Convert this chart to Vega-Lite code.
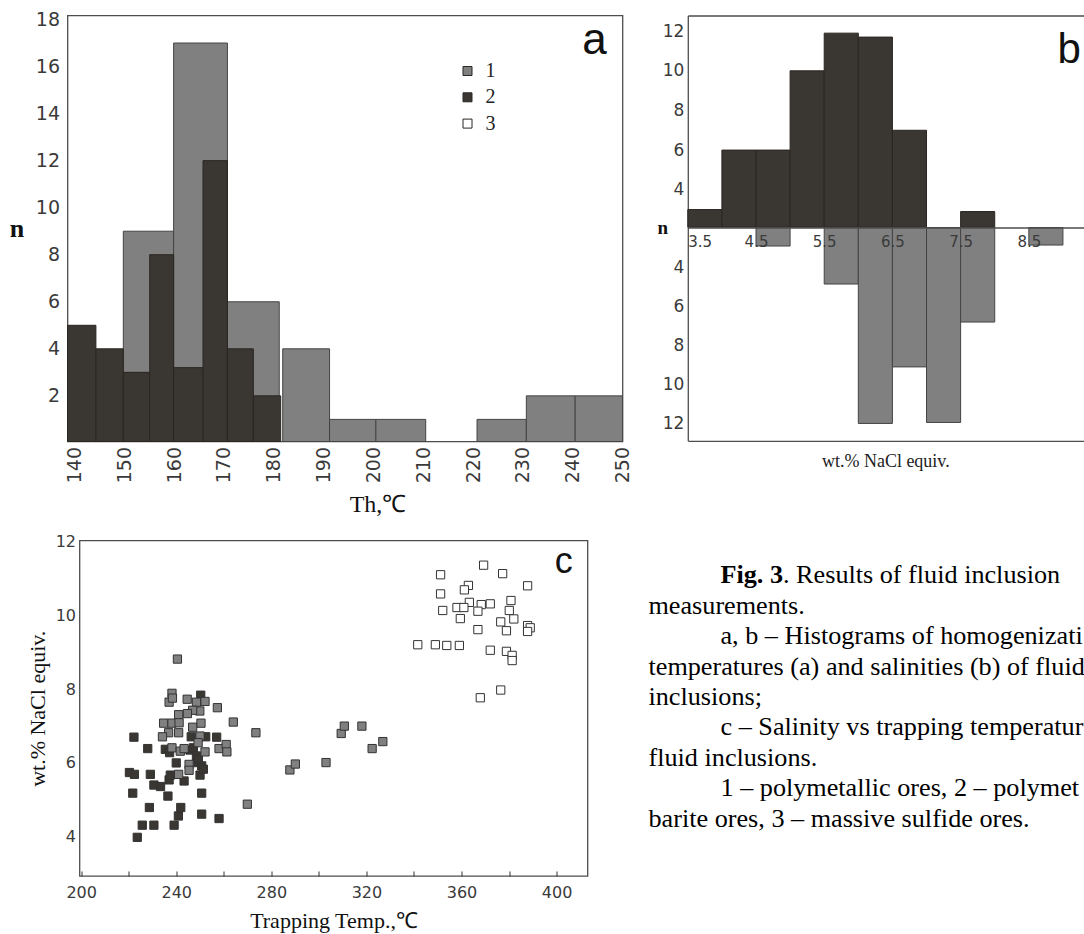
{
  "$schema": "https://vega.github.io/schema/vega-lite/v6.json",
  "background": "white",
  "padding": {"left": 8.5, "top": 9.5, "right": 0, "bottom": 0},
  "spacing": 15,
  "datasets": {
    "hist_th": [
      {"series": "1", "start": 149.8, "end": 159.9, "n": 9},
      {"series": "1", "start": 159.9, "end": 170.7, "n": 17},
      {"series": "1", "start": 170.7, "end": 181.1, "n": 6},
      {"series": "1", "start": 181.8, "end": 191.2, "n": 4},
      {"series": "1", "start": 191.2, "end": 200.5, "n": 1},
      {"series": "1", "start": 200.5, "end": 210.5, "n": 1},
      {"series": "1", "start": 220.8, "end": 230.7, "n": 1},
      {"series": "1", "start": 230.7, "end": 240.5, "n": 2},
      {"series": "1", "start": 240.5, "end": 250, "n": 2},
      {"series": "2", "start": 138.6, "end": 144.3, "n": 5},
      {"series": "2", "start": 144.3, "end": 149.8, "n": 4},
      {"series": "2", "start": 149.8, "end": 155.1, "n": 3},
      {"series": "2", "start": 155.1, "end": 159.9, "n": 8},
      {"series": "2", "start": 159.9, "end": 165.8, "n": 3.2},
      {"series": "2", "start": 165.8, "end": 170.7, "n": 12},
      {"series": "2", "start": 170.7, "end": 175.9, "n": 4},
      {"series": "2", "start": 175.9, "end": 181.4, "n": 2}
    ],
    "hist_sal": [
      {"series": "2", "start": 3.5, "end": 4.0, "n": 3},
      {"series": "2", "start": 4.0, "end": 4.5, "n": 6},
      {"series": "2", "start": 4.5, "end": 5.0, "n": 6},
      {"series": "2", "start": 5.0, "end": 5.5, "n": 10},
      {"series": "2", "start": 5.5, "end": 6.0, "n": 11.9},
      {"series": "2", "start": 6.0, "end": 6.5, "n": 11.7},
      {"series": "2", "start": 6.5, "end": 7.0, "n": 7},
      {"series": "2", "start": 7.5, "end": 8.0, "n": 2.9},
      {"series": "1", "start": 4.5, "end": 5.0, "n": 2.9},
      {"series": "1", "start": 5.5, "end": 6.0, "n": 4.85},
      {"series": "1", "start": 6.0, "end": 6.5, "n": 12},
      {"series": "1", "start": 6.5, "end": 7.0, "n": 9.1},
      {"series": "1", "start": 7.0, "end": 7.5, "n": 11.95},
      {"series": "1", "start": 7.5, "end": 8.0, "n": 6.8},
      {"series": "1", "start": 8.5, "end": 9.0, "n": 2.85}
    ],
    "scatter": [
      {"series": "2", "T": 222.2, "W": 6.70}, {"series": "2", "T": 228.0, "W": 6.39},
      {"series": "2", "T": 220.3, "W": 5.74}, {"series": "2", "T": 222.4, "W": 5.69},
      {"series": "2", "T": 229.1, "W": 5.69}, {"series": "2", "T": 221.7, "W": 5.18},
      {"series": "2", "T": 230.6, "W": 5.40}, {"series": "2", "T": 233.4, "W": 5.36},
      {"series": "2", "T": 228.7, "W": 4.79}, {"series": "2", "T": 236.5, "W": 5.10},
      {"series": "2", "T": 225.7, "W": 4.31}, {"series": "2", "T": 230.6, "W": 4.31},
      {"series": "2", "T": 223.6, "W": 3.98}, {"series": "2", "T": 239.1, "W": 4.31},
      {"series": "2", "T": 240.9, "W": 4.56}, {"series": "2", "T": 241.9, "W": 4.79},
      {"series": "2", "T": 243.3, "W": 5.51}, {"series": "2", "T": 237.0, "W": 5.54},
      {"series": "2", "T": 237.5, "W": 5.67}, {"series": "2", "T": 240.0, "W": 6.00},
      {"series": "2", "T": 235.4, "W": 6.37}, {"series": "2", "T": 237.2, "W": 6.28},
      {"series": "2", "T": 245.8, "W": 6.35}, {"series": "2", "T": 247.2, "W": 6.41},
      {"series": "2", "T": 248.5, "W": 6.19}, {"series": "2", "T": 249.1, "W": 6.01},
      {"series": "2", "T": 250.7, "W": 5.92}, {"series": "2", "T": 250.0, "W": 5.67},
      {"series": "2", "T": 251.4, "W": 5.83}, {"series": "2", "T": 250.7, "W": 5.18},
      {"series": "2", "T": 250.7, "W": 4.61}, {"series": "2", "T": 258.0, "W": 4.49},
      {"series": "2", "T": 257.0, "W": 6.70}, {"series": "2", "T": 252.4, "W": 6.71},
      {"series": "2", "T": 246.3, "W": 6.71}, {"series": "2", "T": 250.3, "W": 7.84},
      {"series": "2", "T": 249.3, "W": 6.10},
      {"series": "1", "T": 240.5, "W": 8.82}, {"series": "1", "T": 238.2, "W": 7.89},
      {"series": "1", "T": 237.0, "W": 7.65}, {"series": "1", "T": 238.4, "W": 7.76},
      {"series": "1", "T": 244.6, "W": 7.73}, {"series": "1", "T": 248.5, "W": 7.65},
      {"series": "1", "T": 252.1, "W": 7.67}, {"series": "1", "T": 249.9, "W": 7.41},
      {"series": "1", "T": 246.9, "W": 7.43}, {"series": "1", "T": 244.7, "W": 7.34},
      {"series": "1", "T": 241.0, "W": 7.31}, {"series": "1", "T": 257.3, "W": 7.50},
      {"series": "1", "T": 264.0, "W": 7.11}, {"series": "1", "T": 234.7, "W": 7.08},
      {"series": "1", "T": 238.2, "W": 7.08}, {"series": "1", "T": 241.2, "W": 7.09},
      {"series": "1", "T": 250.4, "W": 7.08}, {"series": "1", "T": 246.9, "W": 6.97},
      {"series": "1", "T": 273.5, "W": 6.82}, {"series": "1", "T": 236.8, "W": 6.82},
      {"series": "1", "T": 234.2, "W": 6.71}, {"series": "1", "T": 241.0, "W": 6.82},
      {"series": "1", "T": 250.0, "W": 6.73}, {"series": "1", "T": 238.2, "W": 6.41},
      {"series": "1", "T": 241.7, "W": 6.32}, {"series": "1", "T": 243.3, "W": 6.39},
      {"series": "1", "T": 249.2, "W": 6.55}, {"series": "1", "T": 252.1, "W": 6.30},
      {"series": "1", "T": 258.0, "W": 6.39}, {"series": "1", "T": 261.0, "W": 6.50},
      {"series": "1", "T": 261.3, "W": 6.30}, {"series": "1", "T": 245.4, "W": 5.96},
      {"series": "1", "T": 245.4, "W": 5.80}, {"series": "1", "T": 241.0, "W": 5.69},
      {"series": "1", "T": 269.9, "W": 4.88}, {"series": "1", "T": 287.8, "W": 5.81},
      {"series": "1", "T": 290.1, "W": 5.97}, {"series": "1", "T": 303.0, "W": 6.01},
      {"series": "1", "T": 309.4, "W": 6.80}, {"series": "1", "T": 310.7, "W": 7.00},
      {"series": "1", "T": 318.1, "W": 7.00}, {"series": "1", "T": 322.4, "W": 6.39},
      {"series": "1", "T": 326.9, "W": 6.58},
      {"series": "3", "T": 369.3, "W": 11.37}, {"series": "3", "T": 377.3, "W": 11.14},
      {"series": "3", "T": 351.2, "W": 11.11}, {"series": "3", "T": 387.8, "W": 10.81},
      {"series": "3", "T": 362.9, "W": 10.82}, {"series": "3", "T": 361.2, "W": 10.70},
      {"series": "3", "T": 351.2, "W": 10.59}, {"series": "3", "T": 380.8, "W": 10.41},
      {"series": "3", "T": 363.3, "W": 10.36}, {"series": "3", "T": 358.1, "W": 10.22},
      {"series": "3", "T": 361.0, "W": 10.22}, {"series": "3", "T": 368.3, "W": 10.30},
      {"series": "3", "T": 372.1, "W": 10.32}, {"series": "3", "T": 366.9, "W": 10.12},
      {"series": "3", "T": 352.1, "W": 10.14}, {"series": "3", "T": 380.1, "W": 10.14},
      {"series": "3", "T": 359.5, "W": 9.92}, {"series": "3", "T": 382.0, "W": 9.91},
      {"series": "3", "T": 376.5, "W": 9.83}, {"series": "3", "T": 378.9, "W": 9.59},
      {"series": "3", "T": 366.9, "W": 9.62}, {"series": "3", "T": 387.8, "W": 9.73},
      {"series": "3", "T": 388.9, "W": 9.67}, {"series": "3", "T": 387.8, "W": 9.57},
      {"series": "3", "T": 341.6, "W": 9.21}, {"series": "3", "T": 349.0, "W": 9.21},
      {"series": "3", "T": 353.8, "W": 9.19}, {"series": "3", "T": 359.1, "W": 9.19},
      {"series": "3", "T": 372.1, "W": 9.06}, {"series": "3", "T": 378.9, "W": 9.03},
      {"series": "3", "T": 381.3, "W": 8.92}, {"series": "3", "T": 381.3, "W": 8.78},
      {"series": "3", "T": 376.5, "W": 7.98}, {"series": "3", "T": 367.9, "W": 7.77}
    ],
    "caption": [
      {"line": 1, "indent": "yes", "style": "bold", "text": "Fig. 3"},
      {"line": 1, "indent": "yes", "style": "after", "text": ". Results of fluid inclusion"},
      {"line": 2, "indent": "no", "style": "plain", "text": "measurements."},
      {"line": 3, "indent": "yes", "style": "plain", "text": "a, b – Histograms of homogenization"},
      {"line": 4, "indent": "no", "style": "plain", "text": "temperatures (a) and salinities (b) of fluid"},
      {"line": 5, "indent": "no", "style": "plain", "text": "inclusions;"},
      {"line": 6, "indent": "yes", "style": "plain", "text": "c – Salinity vs trapping temperature of"},
      {"line": 7, "indent": "no", "style": "plain", "text": "fluid inclusions."},
      {"line": 8, "indent": "yes", "style": "plain", "text": "1 – polymetallic ores, 2 – polymetallic-"},
      {"line": 9, "indent": "no", "style": "plain", "text": "barite ores, 3 – massive sulfide ores."}
    ]
  },
  "vconcat": [
    {
      "hconcat": [
        {
          "width": 555,
          "height": 426,
          "data": {"name": "hist_th"},
          "layer": [
            {
              "transform": [{"filter": "datum.series == '1'"}],
              "mark": {"type": "bar", "stroke": "#444444", "strokeWidth": 1},
              "encoding": {
                "x": {"field": "start", "type": "quantitative",
                  "scale": {"domain": [138.6, 250], "nice": false, "zero": false},
                  "axis": {"values": [140, 150, 160, 170, 180, 190, 200, 210, 220, 230, 240, 250],
                    "labelAngle": -90, "labelFontSize": 19, "labelPadding": 5, "labelFlush": false,
                    "title": "Th,℃", "titleFontSize": 24, "titlePadding": 10, "titleX": 310, "titleAlign": "center"}},
                "x2": {"field": "end"},
                "y": {"field": "n", "type": "quantitative",
                  "scale": {"domain": [0.06, 18.17], "nice": false, "zero": false},
                  "axis": {"values": [2, 4, 6, 8, 10, 12, 14, 16, 18], "labelFontSize": 19, "labelPadding": 8,
                    "title": "n", "titleAngle": 0, "titleFontSize": 26, "titleFontWeight": "bold",
                    "titleX": -51, "titleY": 213, "titleAlign": "center", "titleBaseline": "middle"}},
                "y2": {"datum": 0.06},
                "color": {"field": "series", "type": "nominal",
                  "scale": {"domain": ["1", "2", "3"], "range": ["#808080", "#3a3632", "#ffffff"]},
                  "legend": {"orient": "none", "legendX": 390, "legendY": 45.5, "title": null, "padding": 0,
                    "symbolType": "square", "symbolSize": 81, "symbolStrokeColor": "#333333", "symbolStrokeWidth": 1,
                    "labelFont": "Liberation Serif", "labelFontSize": 20, "labelColor": "#222222",
                    "rowPadding": 6.3, "labelOffset": 8}}
              }
            },
            {
              "transform": [{"filter": "datum.series == '2'"}],
              "mark": {"type": "bar", "stroke": "#2a2622", "strokeWidth": 1},
              "encoding": {
                "x": {"field": "start", "type": "quantitative"},
                "x2": {"field": "end"},
                "y": {"field": "n", "type": "quantitative"},
                "y2": {"datum": 0.06},
                "color": {"field": "series", "type": "nominal"}
              }
            },
            {
              "data": {"values": [{}]},
              "mark": {"type": "text", "text": "a", "font": "Liberation Sans", "fontSize": 44, "align": "center", "baseline": "alphabetic", "color": "#111111"},
              "encoding": {"x": {"datum": 244.4}, "y": {"datum": 16.55}}
            }
          ]
        },
        {
          "vconcat": [
            {
              "width": 396,
              "height": 211.7,
              "view": {"stroke": null},
              "layer": [
                {
                  "data": {"name": "hist_sal"},
                  "transform": [{"filter": "datum.series == '2'"}],
                  "mark": {"type": "bar", "fill": "#3a3632", "stroke": "#2a2622", "strokeWidth": 1},
                  "encoding": {
                    "x": {"field": "start", "type": "quantitative",
                      "scale": {"domain": [3.5, 9.306], "nice": false, "zero": false},
                      "axis": {"orient": "top", "labels": false, "ticks": false, "domain": true, "domainColor": "#4d4d4d", "domainWidth": 1.3, "title": null}},
                    "x2": {"field": "end"},
                    "y": {"field": "n", "type": "quantitative",
                      "scale": {"domain": [2.11, 12.79], "nice": false, "zero": false},
                      "axis": {"values": [4, 6, 8, 10, 12], "labelFontSize": 17, "labelPadding": 4,
                        "domain": true, "domainColor": "#4d4d4d", "domainWidth": 1.3,
                        "title": "n", "titleAngle": 0, "titleFontSize": 19, "titleFontWeight": "bold",
                        "titleX": -25.5, "titleY": 211.7, "titleAlign": "center", "titleBaseline": "middle"}},
                    "y2": {"datum": 2.11}
                  }
                },
                {
                  "data": {"values": [{}]},
                  "mark": {"type": "text", "text": "b", "font": "Liberation Sans", "fontSize": 42, "align": "center", "baseline": "alphabetic", "color": "#111111"},
                  "encoding": {"x": {"datum": 9.09}, "y": {"datum": 10.39}}
                }
              ]
            },
            {
              "width": 396,
              "height": 213.3,
              "view": {"stroke": null},
              "title": {"text": "wt.% NaCl equiv.", "orient": "bottom", "font": "Liberation Serif", "fontSize": 18, "fontWeight": "normal", "color": "#222222", "offset": 12},
              "data": {"name": "hist_sal"},
              "transform": [{"filter": "datum.series == '1'"}],
              "layer": [
                {
                  "mark": {"type": "bar", "fill": "#808080", "stroke": "#444444", "strokeWidth": 1},
                  "encoding": {
                    "x": {"field": "start", "type": "quantitative",
                      "scale": {"domain": [3.5, 9.306], "nice": false, "zero": false},
                      "axis": {"orient": "top", "values": [3.5, 4.5, 5.5, 6.5, 7.5, 8.5], "format": ".1f",
                        "labelFontSize": 15, "labelPadding": -7, "labelBaseline": "top", "labelFlush": true,
                        "domain": true, "domainColor": "#4d4d4d", "domainWidth": 1.3, "zindex": 1, "title": null}},
                    "x2": {"field": "end"},
                    "y": {"field": "n", "type": "quantitative",
                      "scale": {"domain": [1.95, 12.89], "nice": false, "zero": false, "reverse": true},
                      "axis": {"values": [4, 6, 8, 10, 12], "labelFontSize": 17, "labelPadding": 4,
                        "domain": true, "domainColor": "#4d4d4d", "domainWidth": 1.3, "title": null}},
                    "y2": {"datum": 1.95}
                  }
                },
                {
                  "mark": {"type": "bar", "opacity": 0},
                  "encoding": {
                    "x": {"field": "start", "type": "quantitative",
                      "scale": {"domain": [3.5, 9.306], "nice": false, "zero": false},
                      "axis": {"orient": "bottom", "labels": false, "ticks": false, "domain": true, "domainColor": "#4d4d4d", "domainWidth": 1.3, "title": null}},
                    "x2": {"field": "end"},
                    "y": {"field": "n", "type": "quantitative"},
                    "y2": {"datum": 1.95}
                  }
                }
              ],
              "resolve": {"axis": {"x": "independent"}}
            }
          ],
          "spacing": 0,
          "bounds": "flush"
        }
      ],
      "spacing": 65.3,
      "bounds": "flush"
    },
    {
      "hconcat": [
        {
          "width": 0.3,
          "height": 1,
          "view": {"stroke": null},
          "data": {"values": []},
          "mark": {"type": "text"},
          "encoding": {}
        },
        {
          "width": 508,
          "height": 335.5,
          "layer": [
            {
              "data": {"name": "scatter"},
              "mark": {"type": "square", "size": 68, "stroke": "#333333", "strokeWidth": 1, "opacity": 1},
              "encoding": {
                "x": {"field": "T", "type": "quantitative",
                  "scale": {"domain": [199.3, 413], "nice": false, "zero": false},
                  "axis": {"values": [200, 220, 240, 260, 280, 300, 320, 340, 360, 380, 400],
                    "labelExpr": "datum.value % 40 == 0 ? datum.label : ''",
                    "ticks": true, "tickSize": -5, "tickColor": "#333333",
                    "labelFontSize": 16, "labelPadding": 13, "labelFlush": false,
                    "title": "Trapping Temp.,℃", "titleFontSize": 22, "titlePadding": 10}},
                "y": {"field": "W", "type": "quantitative",
                  "scale": {"domain": [2.93, 12.04], "nice": false, "zero": false},
                  "axis": {"values": [4, 6, 8, 10, 12], "labelFontSize": 16, "labelPadding": 4,
                    "title": "wt.% NaCl equiv.", "titleFontSize": 22, "titlePadding": 6}},
                "color": {"field": "series", "type": "nominal"}
              }
            },
            {
              "data": {"values": [{}]},
              "mark": {"type": "text", "text": "c", "font": "Liberation Sans", "fontSize": 36, "align": "center", "baseline": "alphabetic", "color": "#111111"},
              "encoding": {"x": {"datum": 403}, "y": {"datum": 11.17}}
            }
          ]
        },
        {
          "width": 39,
          "height": 1,
          "view": {"stroke": null},
          "data": {"values": []},
          "mark": {"type": "text"},
          "encoding": {}
        },
        {
          "width": 437,
          "height": 278,
          "view": {"stroke": null},
          "data": {"name": "caption"},
          "encoding": {
            "x": {"field": "indent", "type": "nominal",
              "scale": {"type": "point", "domain": ["no", "yes"], "range": [0, 72], "padding": 0}, "axis": null},
            "y": {"field": "line", "type": "quantitative",
              "scale": {"domain": [-0.15, 9], "nice": false, "zero": false, "reverse": true}, "axis": null},
            "text": {"field": "text"}
          },
          "layer": [
            {
              "transform": [{"filter": "datum.style == 'plain' && datum.indent == 'no'"}],
              "mark": {"type": "text", "align": "left", "baseline": "middle", "font": "Liberation Serif", "fontSize": 26.2, "color": "#000000", "limit": 437, "ellipsis": "\u200b"}
            },
            {
              "transform": [{"filter": "datum.style == 'plain' && datum.indent == 'yes'"}],
              "mark": {"type": "text", "align": "left", "baseline": "middle", "font": "Liberation Serif", "fontSize": 26.2, "color": "#000000", "limit": 365, "ellipsis": "\u200b"}
            },
            {
              "transform": [{"filter": "datum.style == 'bold'"}],
              "mark": {"type": "text", "align": "left", "baseline": "middle", "font": "Liberation Serif", "fontSize": 26.2, "fontWeight": "bold", "color": "#000000"}
            },
            {
              "transform": [{"filter": "datum.style == 'after'"}],
              "mark": {"type": "text", "align": "left", "baseline": "middle", "font": "Liberation Serif", "fontSize": 26.2, "color": "#000000", "dx": 62.5, "limit": 300, "ellipsis": "\u200b"}
            }
          ]
        }
      ],
      "spacing": 11,
      "bounds": "flush"
    }
  ],
  "config": {
    "view": {"stroke": "#4d4d4d", "strokeWidth": 1.3},
    "axis": {"grid": false, "ticks": false, "domain": false, "labelFont": "DejaVu Sans", "labelColor": "#3a3a3a",
      "titleFont": "Liberation Serif", "titleFontWeight": "normal", "titleColor": "#111111"}
  }
}
